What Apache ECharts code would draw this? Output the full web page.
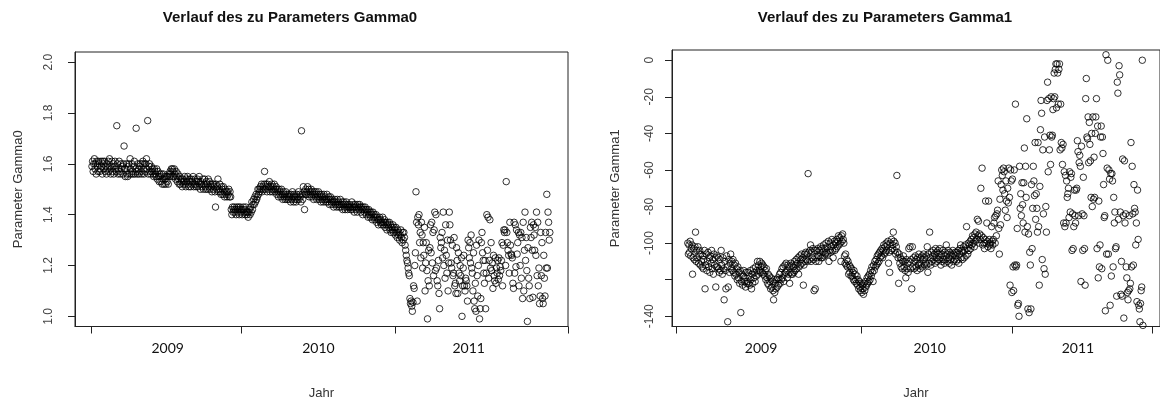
<!DOCTYPE html>
<html><head><meta charset="utf-8">
<script src="https://cdn.jsdelivr.net/npm/echarts@6/dist/echarts.min.js"></script>
<style>html,body{margin:0;padding:0;background:#fff}#c{width:1160px;height:405px}</style>
</head><body><div id="c"></div>
<script>
const yearLabels = ['2009', '2010', '2011'];
const titles = ['Verlauf des zu Parameters Gamma0', 'Verlauf des zu Parameters Gamma1'];
const yNames = ['Parameter Gamma0', 'Parameter Gamma1'];
const xName = 'Jahr';
// x = trading-day index; ticks at year boundaries, labels mid-year
const xTicks0 = [0, 247, 501, 787];
const xLabelPos0 = [126, 375, 623];
const xTicks1 = [-19, 293, 545, 780];
const xLabelPos1 = [124, 407, 656];
const yTicks0 = [1.0, 1.2, 1.4, 1.6, 1.8, 2.0];
const yTicks1 = [-140, -120, -100, -80, -60, -40, -20, 0];
const yLabels1 = [-140, -100, -80, -60, -40, -20, 0];

const gamma0 = [
1.59,1.61,1.57,1.60,1.62,1.58,1.60,1.56,1.61,1.59,1.57,1.61,1.60,1.57,1.58,1.61,1.59,1.56,1.61,1.60,1.58,1.61,1.57,1.59,1.56,
1.60,1.58,1.61,1.57,1.62,1.59,1.56,1.58,1.61,1.57,1.60,1.56,1.59,1.61,1.58,1.57,1.75,1.60,1.56,1.58,1.61,1.57,1.56,1.60,1.58,
1.59,1.56,1.60,1.67,1.58,1.55,1.58,1.60,1.56,1.55,1.59,1.60,1.56,1.62,1.58,1.56,1.60,1.57,1.56,1.59,1.61,1.56,1.58,1.74,1.57,
1.56,1.60,1.58,1.56,1.59,1.60,1.57,1.56,1.60,1.61,1.58,1.56,1.60,1.57,1.60,1.62,1.58,1.77,1.56,1.59,1.60,1.57,1.56,1.59,1.57,
1.58,1.56,1.55,1.58,1.57,1.56,1.55,1.58,1.54,1.57,1.55,1.53,1.56,1.55,1.53,1.56,1.52,1.54,1.56,1.52,1.55,1.54,1.52,1.55,1.53,
1.55,1.52,1.56,1.55,1.57,1.56,1.58,1.55,1.58,1.57,1.55,1.58,1.56,1.54,1.57,1.55,1.53,1.56,1.54,1.52,1.55,1.52,1.54,1.53,1.51,
1.54,1.52,1.53,1.55,1.52,1.51,1.54,1.53,1.55,1.52,1.51,1.54,1.53,1.51,1.54,1.52,1.53,1.55,1.51,1.52,1.54,1.52,1.51,1.53,1.54,
1.51,1.53,1.55,1.52,1.50,1.53,1.52,1.51,1.54,1.50,1.52,1.54,1.51,1.50,1.53,1.52,1.50,1.54,1.51,1.53,1.50,1.52,1.51,1.49,1.52,
1.50,1.52,1.51,1.49,1.43,1.52,1.50,1.51,1.54,1.49,1.50,1.52,1.49,1.48,1.51,1.50,1.48,1.51,1.49,1.47,1.50,1.48,1.49,1.47,1.49,
1.48,1.50,1.47,1.49,1.47,1.42,1.40,1.43,1.41,1.42,1.43,1.41,1.42,1.40,1.43,1.42,1.41,1.43,1.40,1.42,1.43,1.41,1.42,1.40,1.42,
1.43,1.41,1.42,1.40,1.43,1.41,1.40,1.41,1.39,1.41,1.42,1.40,1.43,1.41,1.45,1.42,1.44,1.46,1.44,1.47,1.45,1.48,1.46,1.47,1.50,
1.48,1.50,1.49,1.51,1.50,1.52,1.49,1.51,1.50,1.52,1.57,1.50,1.52,1.51,1.49,1.52,1.50,1.51,1.53,1.49,1.51,1.50,1.52,1.49,1.51,
1.50,1.52,1.49,1.50,1.51,1.48,1.50,1.49,1.47,1.50,1.48,1.49,1.47,1.50,1.48,1.46,1.49,1.47,1.48,1.46,1.49,1.47,1.46,1.48,1.47,
1.46,1.48,1.47,1.45,1.48,1.46,1.49,1.47,1.45,1.48,1.46,1.47,1.45,1.48,1.46,1.47,1.49,1.46,1.48,1.47,1.45,1.73,1.48,1.46,1.51,
1.49,1.42,1.48,1.50,1.48,1.49,1.51,1.48,1.50,1.47,1.49,1.48,1.50,1.47,1.49,1.48,1.46,1.49,1.48,1.47,1.49,1.46,1.48,1.47,1.49,
1.46,1.48,1.47,1.45,1.48,1.46,1.47,1.45,1.48,1.46,1.47,1.45,1.46,1.48,1.45,1.46,1.47,1.44,1.46,1.47,1.45,1.44,1.46,1.45,1.43,
1.45,1.46,1.44,1.45,1.43,1.46,1.44,1.45,1.43,1.44,1.46,1.43,1.44,1.45,1.42,1.44,1.45,1.43,1.42,1.44,1.45,1.43,1.42,1.44,1.43,
1.43,1.44,1.42,1.43,1.45,1.42,1.43,1.44,1.41,1.43,1.44,1.42,1.43,1.41,1.44,1.43,1.42,1.44,1.43,1.41,1.43,1.42,1.40,1.43,1.42,
1.41,1.43,1.42,1.40,1.42,1.41,1.39,1.42,1.40,1.41,1.39,1.41,1.40,1.38,1.41,1.39,1.40,1.38,1.39,1.40,1.37,1.39,1.38,1.36,1.38,
1.39,1.37,1.38,1.36,1.37,1.39,1.36,1.37,1.38,1.35,1.37,1.36,1.34,1.37,1.36,1.35,1.37,1.34,1.36,1.33,1.35,1.34,1.36,1.33,1.35,
1.34,1.32,1.35,1.33,1.31,1.34,1.32,1.33,1.30,1.32,1.34,1.31,1.29,1.33,1.30,1.33,1.31,1.28,1.26,1.24,1.22,1.21,1.19,1.17,1.16,
1.07,1.05,1.06,1.04,1.02,1.055,1.12,1.11,1.20,1.25,1.49,1.37,1.06,1.39,1.36,1.40,1.29,1.33,1.23,1.37,1.32,1.19,1.29,1.24,1.35,
1.10,1.21,1.29,1.18,0.99,1.14,1.26,1.12,1.27,1.36,1.25,1.37,1.21,1.33,1.16,1.34,1.41,1.18,1.40,1.19,1.14,1.12,1.22,1.09,1.03,
1.31,1.27,1.29,1.33,1.23,1.41,1.20,1.26,1.15,1.36,1.24,1.17,1.30,1.10,1.21,1.41,1.36,1.30,1.21,1.19,1.28,1.16,1.17,1.31,1.12,
1.13,1.09,1.27,1.22,1.09,1.25,1.17,1.14,1.20,1.16,1.23,1.00,1.12,1.19,1.24,1.12,1.10,1.15,1.14,1.12,1.06,1.30,1.27,1.23,1.29,
1.21,1.32,1.19,1.17,1.10,1.25,1.06,1.03,1.13,1.02,1.28,1.16,1.08,1.20,1.30,0.99,1.03,1.07,1.29,1.33,1.25,1.22,1.17,1.13,1.22,
1.03,1.17,1.40,1.26,1.39,1.15,1.22,1.38,1.19,1.29,1.18,1.21,1.11,1.24,1.16,1.14,1.23,1.13,1.19,1.17,1.22,1.145,1.23,1.16,1.195,
1.18,1.22,1.29,1.12,1.28,1.34,1.33,1.34,1.20,1.53,1.33,1.29,1.26,1.24,1.17,1.37,1.28,1.245,1.24,1.23,1.13,1.11,1.37,1.17,1.36,
1.195,1.34,1.245,1.29,1.33,1.12,1.32,1.20,1.33,1.15,1.31,1.07,1.37,1.10,1.26,1.41,1.22,1.31,1.18,0.98,1.27,1.15,1.12,1.07,1.35,
1.31,1.37,1.26,1.075,1.36,1.32,1.26,1.35,1.24,1.41,1.16,1.37,1.12,1.19,1.05,1.08,1.33,1.16,1.29,1.07,1.05,1.24,1.15,1.08,1.33,
1.19,1.48,1.19,1.41,1.37,1.30,1.33
];

const gamma1 = [
-100,-106,-101,-105,-99,-107,-103,-101,-117,-108,-103,-109,-102,-94,-110,-104,-108,-102,-111,-106,-104,-112,-106,-110,-113,
-107,-114,-109,-104,-125,-112,-106,-115,-110,-105,-113,-108,-116,-107,-111,-104,-114,-109,-117,-106,-112,-108,-124,-113,-107,
-113,-108,-114,-116,-109,-115,-104,-112,-117,-108,-114,-131,-110,-115,-125,-107,-113,-143,-124,-109,-116,-111,-106,-114,-110,
-115,-109,-116,-112,-118,-111,-117,-114,-120,-113,-119,-116,-122,-115,-138,-121,-117,-123,-118,-115,-121,-119,-124,-116,-122,
-121,-116,-122,-118,-123,-115,-120,-125,-117,-122,-114,-119,-116,-121,-113,-118,-115,-110,-117,-112,-115,-110,-116,-113,-111,
-116,-112,-117,-113,-118,-115,-120,-114,-119,-122,-117,-123,-118,-121,-125,-119,-124,-121,-126,-131,-120,-127,-122,-125,-120,
-124,-119,-123,-120,-117,-122,-116,-120,-114,-119,-113,-121,-117,-112,-116,-111,-115,-119,-112,-117,-113,-122,-116,-111,-117,
-112,-117,-113,-116,-110,-115,-112,-109,-114,-111,-108,-117,-113,-107,-112,-109,-106,-111,-108,-123,-112,-106,-110,-105,-109,
-106,-110,-62,-105,-109,-104,-101,-110,-105,-108,-103,-109,-126,-104,-125,-110,-104,-108,-103,-107,-110,-104,-107,-102,-108,
-103,-108,-105,-101,-107,-103,-106,-100,-105,-102,-106,-99,-110,-104,-100,-105,-102,-98,-104,-108,-101,-99,-104,-100,-103,
-98,-102,-99,-96,-101,-97,-100,-110,-96,-99,-95,-98,-100,-107,-111,-106,-112,-109,-113,-110,-117,-112,-116,-113,-118,
-114,-118,-116,-120,-115,-121,-117,-120,-122,-118,-123,-120,-125,-121,-124,-126,-122,-127,-123,-125,-128,-122,-126,-121,-124,
-123,-119,-122,-118,-121,-117,-120,-115,-118,-113,-116,-121,-112,-115,-110,-113,-109,-112,-107,-111,-106,-110,-105,-108,-104,
-107,-103,-108,-104,-101,-106,-102,-105,-100,-104,-101,-99,-111,-105,-116,-100,-104,-98,-103,-101,-94,-99,-104,-100,-106,
-102,-63,-105,-108,-122,-106,-111,-108,-113,-109,-114,-110,-107,-113,-110,-115,-119,-109,-114,-111,-116,-103,-110,-102,-114,
-109,-125,-102,-113,-108,-114,-110,-107,-113,-109,-115,-108,-112,-106,-111,-114,-108,-112,-107,-113,-109,-106,-112,-108,-111,
-107,-112,-102,-116,-106,-111,-94,-108,-112,-105,-110,-107,-104,-109,-106,-111,-103,-108,-105,-110,-104,-109,-106,-103,-108,
-112,-106,-110,-104,-109,-107,-111,-105,-109,-101,-106,-110,-104,-108,-111,-105,-109,-106,-112,-107,-104,-110,-106,-109,-105,
-107,-110,-105,-109,-104,-111,-106,-103,-101,-108,-104,-109,-105,-102,-108,-104,-101,-107,-91,-103,-106,-100,-104,-101,-99,
-103,-98,-101,-96,-100,-97,-102,-95,-99,-94,-98,-87,-96,-88,-100,-95,-98,-70,-96,-59,-101,-97,-100,-103,-98,
-77,-100,-89,-99,-102,-77,-98,-101,-100,-103,-91,-99,-101,-98,-89,-86,-100,-85,-96,-84,-82,-66,-92,-106,-76,
-90,-68,-60,-63,-71,-59,-61,-73,-82,-66,-77,-86,-70,-78,-59,-75,-123,-60,-66,-127,-65,-113,-126,-60,-112,
-24,-113,-112,-92,-134,-133,-140,-58,-81,-73,-85,-67,-79,-89,-67,-48,-94,-58,-75,-32,-91,-136,-95,-138,-105,
-112,-136,-68,-103,-81,-58,-66,-74,-45,-87,-73,-81,-94,-45,-91,-123,-69,-38,-22,-29,-109,-49,-84,-114,-42,
-117,-80,-94,-22,-12,-61,-21,-49,-41,-57,-20,-42,-41,-27,-21,-7,-20,-5,-2,-26,-2,-7,-24,-5,-2,
-49,-24,-45,-48,-57,-46,-89,-61,-91,-63,-89,-66,-75,-73,-70,-86,-61,-83,-64,-62,-104,-84,-103,-91,-71,
-85,-89,-71,-70,-44,-50,-85,-56,-52,-58,-121,-47,-84,-104,-64,-85,-103,-123,-21,-10,-42,-43,-31,-56,-34,
-46,-55,-75,-40,-80,-31,-76,-53,-75,-40,-31,-21,-103,-36,-119,-77,-113,-101,-42,-36,-114,-42,-51,-68,-86,
-85,-137,3,-106,-59,0,-106,-60,-65,-134,-62,-118,-62,-66,-113,-75,-89,-83,-103,-102,-129,-12,-18,-87,-3,
-8,-83,-128,-110,-129,-54,-85,-141,-55,-89,-84,-113,-119,-127,-131,-126,-85,-125,-122,-45,-113,-58,-84,-112,-68,
-81,-83,-101,-89,-132,-71,-98,-134,-136,-143,-133,-126,-124,0,-145
];

const chart = echarts.init(document.getElementById('c'), null, {renderer: 'canvas'});
const AX = '#222';
const SANS = 'Liberation Sans, Arial, sans-serif';

function xAxisCfg(idx, min, max, ticks, labelPos) {
  return {
    type: 'value', gridIndex: idx, min: min, max: max,
    splitLine: {show: false},
    axisLine: {show: true, onZero: false, lineStyle: {color: AX, width: 1}},
    axisTick: {show: true, customValues: ticks, length: 7, lineStyle: {color: AX, width: 1}},
    axisLabel: {
      customValues: labelPos,
      formatter: function (v) { const k = labelPos.indexOf(v); return k >= 0 ? yearLabels[k] : ''; },
      fontFamily: 'Lato, Open Sans, sans-serif', fontSize: 14, color: '#111',
      margin: 22, verticalAlign: 'middle'
    },
    name: xName, nameLocation: 'middle', nameGap: 67,
    nameTextStyle: {fontFamily: SANS, fontSize: 13, color: '#333', verticalAlign: 'middle', align: 'center'}
  };
}
function yAxisCfg(idx, min, max, ticks, labels, fmt, name, margin) {
  return {
    type: 'value', gridIndex: idx, min: min, max: max,
    splitLine: {show: false},
    axisLine: {show: true, onZero: false, lineStyle: {color: AX, width: 1}},
    axisTick: {show: true, customValues: ticks, length: 7, lineStyle: {color: AX, width: 1}},
    axisLabel: {
      customValues: labels, formatter: fmt, rotate: 90,
      fontFamily: SANS, fontSize: 12, color: '#444',
      margin: margin, align: 'center', verticalAlign: 'middle'
    },
    name: name, nameLocation: 'middle', nameGap: 57, nameRotate: 90,
    nameTextStyle: {fontFamily: SANS, fontSize: 13, color: '#333', align: 'center', verticalAlign: 'middle'}
  };
}
const pointStyle = {color: 'rgba(0,0,0,0)', borderColor: '#000', borderWidth: 1};

chart.setOption({
  animation: false,
  backgroundColor: '#fff',
  title: [
    {text: titles[0], left: 290, top: 10, textAlign: 'center', padding: 0,
     textStyle: {fontFamily: SANS, fontWeight: 'bold', fontSize: 15, color: '#111'}},
    {text: titles[1], left: 885, top: 10, textAlign: 'center', padding: 0,
     textStyle: {fontFamily: SANS, fontWeight: 'bold', fontSize: 15, color: '#111'}}
  ],
  grid: [
    {left: 75, top: 52, width: 493, height: 288, show: true, borderColor: AX, borderWidth: 1, backgroundColor: 'transparent'},
    {left: 672, top: 50, width: 494, height: 288, show: true, borderColor: AX, borderWidth: 1, backgroundColor: 'transparent'}
  ],
  xAxis: [
    xAxisCfg(0, -27, 787, xTicks0, xLabelPos0),
    xAxisCfg(1, -25.5, 793.7, xTicks1, xLabelPos1)
  ],
  yAxis: [
    yAxisCfg(0, 0.96, 2.04, yTicks0, yTicks0, function (v) { return v.toFixed(1); }, yNames[0], 26),
    yAxisCfg(1, -145.6, 5.6, yTicks1, yLabels1, function (v) { return String(v); }, yNames[1], 22)
  ],
  series: [
    {type: 'scatter', xAxisIndex: 0, yAxisIndex: 0, symbol: 'circle', symbolSize: 6.5, silent: true,
     itemStyle: pointStyle, data: gamma0.map(function (v, i) { return [i + 1, v]; })},
    {type: 'scatter', xAxisIndex: 1, yAxisIndex: 1, symbol: 'circle', symbolSize: 6.5, silent: true,
     itemStyle: pointStyle, data: gamma1.map(function (v, i) { return [i + 1, v]; })}
  ]
});
</script>
</body></html>
